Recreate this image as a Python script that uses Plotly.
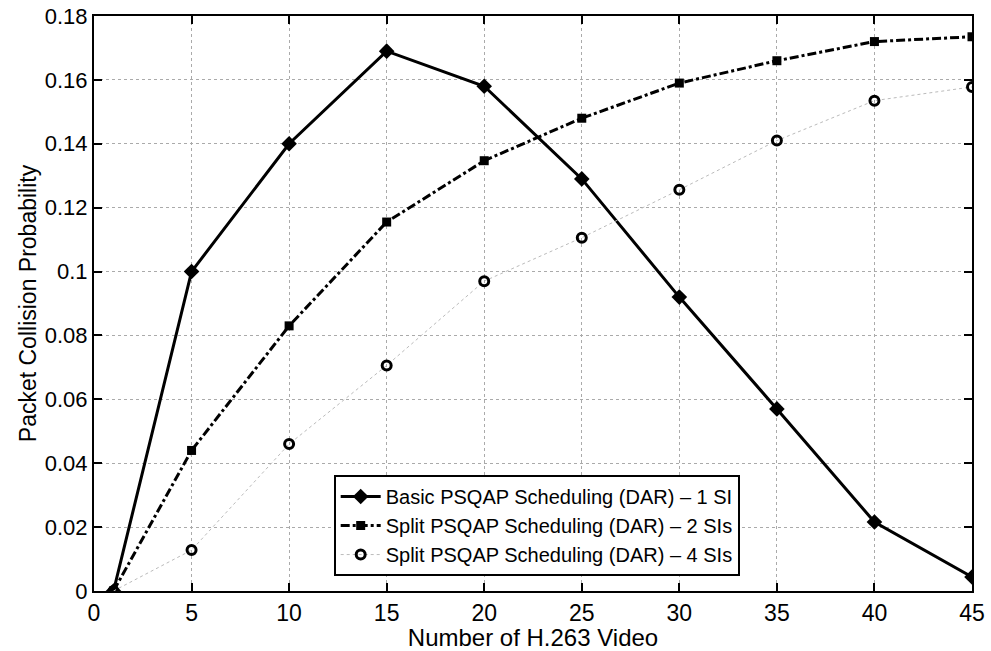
import plotly.graph_objects as go

x_vals = [1, 5, 10, 15, 20, 25, 30, 35, 40, 45]
basic_1si = [0.0, 0.100, 0.140, 0.169, 0.158, 0.129, 0.092, 0.057, 0.0216, 0.0044]
split_2si = [0.0, 0.044, 0.083, 0.1155, 0.1347, 0.148, 0.159, 0.166, 0.172, 0.1735]
split_4si = [0.0, 0.0128, 0.046, 0.0706, 0.097, 0.1106, 0.1256, 0.141, 0.1535, 0.1578]

names = ["Basic PSQAP Scheduling (DAR) \u2013 1 SI",
         "Split PSQAP Scheduling (DAR) \u2013 2 SIs",
         "Split PSQAP Scheduling (DAR) \u2013 4 SIs"]

x_ticks = [0, 5, 10, 15, 20, 25, 30, 35, 40, 45]
y_ticks = [0, 0.02, 0.04, 0.06, 0.08, 0.1, 0.12, 0.14, 0.16, 0.18]

fig = go.Figure()
fig.add_trace(go.Scatter(x=x_vals, y=basic_1si, name=names[0], mode="lines+markers",
                         line=dict(color="black", width=3),
                         marker=dict(symbol="diamond", size=12, color="black")))
fig.add_trace(go.Scatter(x=x_vals, y=split_2si, name=names[1], mode="lines+markers",
                         line=dict(color="black", width=3, dash="dashdot"),
                         marker=dict(symbol="square", size=9, color="black")))
fig.add_trace(go.Scatter(x=x_vals, y=split_4si, name=names[2], mode="lines+markers",
                         line=dict(color="#bbbbbb", width=1, dash="dot"),
                         marker=dict(symbol="circle-open", size=9, color="black",
                                     line=dict(width=3, color="black"))))

font = "Liberation Sans, Arial, sans-serif"
fig.update_layout(
    width=991, height=651,
    margin=dict(l=94, r=19, t=16, b=60),
    plot_bgcolor="white", paper_bgcolor="white",
    font=dict(family=font, size=22, color="black"),
    showlegend=True,
    legend=dict(x=0.273, y=0.026, xanchor="left", yanchor="bottom",
                bgcolor="white", bordercolor="black", borderwidth=2,
                font=dict(size=20, family=font), tracegroupgap=0,
                itemwidth=40),
    xaxis=dict(range=[0, 45], tickvals=x_ticks, ticks="inside", ticklen=8,
               tickwidth=1.5, tickcolor="black", automargin=False,
               showline=True, linecolor="black", linewidth=2, mirror="ticks",
               showgrid=True, gridcolor="#aaaaaa", griddash="dot", gridwidth=1,
               zeroline=False,
               title=dict(text="Number of H.263 Video", standoff=0,
                          font=dict(size=24)),
               tickfont=dict(size=23)),
    yaxis=dict(range=[0, 0.18], tickvals=y_ticks, ticks="inside", ticklen=8,
               tickwidth=1.5, tickcolor="black", automargin=False,
               showline=True, linecolor="black", linewidth=2, mirror="ticks",
               showgrid=True, gridcolor="#aaaaaa", griddash="dot", gridwidth=1,
               zeroline=False,
               title=dict(text="Packet Collision Probability", standoff=2,
                          font=dict(size=23)),
               tickfont=dict(size=22)),
)

fig.write_html("out.html")
